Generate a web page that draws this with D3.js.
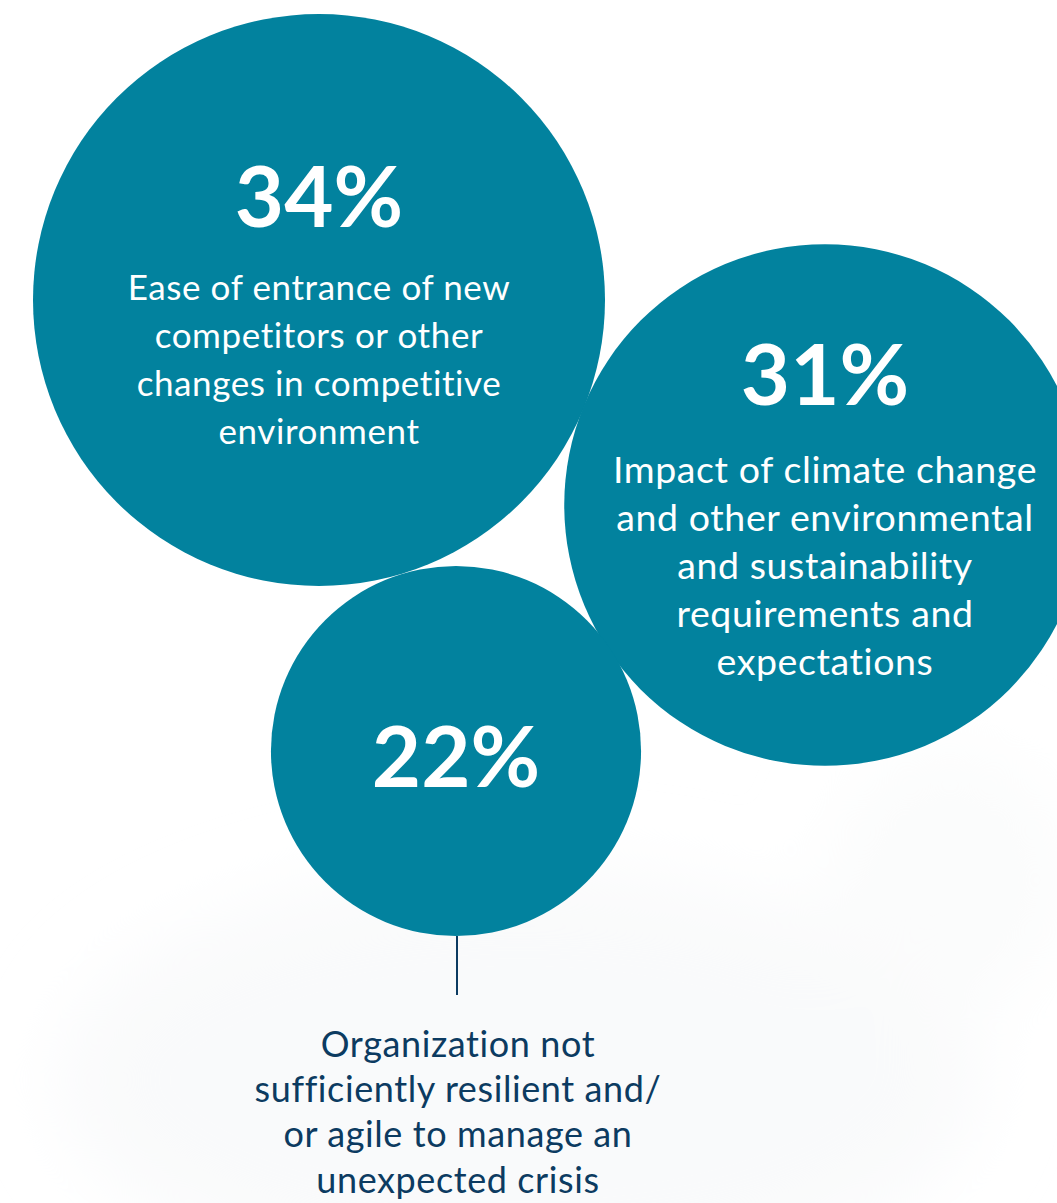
<!DOCTYPE html>
<html>
<head>
<meta charset="utf-8">
<script src="https://cdn.jsdelivr.net/npm/d3@7"></script>
<style>
  html, body { margin: 0; padding: 0; background: #ffffff; }
  svg { display: block; }
  text { font-variant-ligatures: none; font-feature-settings: "liga" 0, "clig" 0; }
</style>
</head>
<body>
<svg id="chart" width="1057" height="1203"></svg>
<script>
// ---- data ----
const categories = [
  "Ease of entrance of new competitors or other changes in competitive environment",
  "Impact of climate change and other environmental and sustainability requirements and expectations",
  "Organization not sufficiently resilient and/ or agile to manage an unexpected crisis"
];
const values = [34, 31, 22];
const labelLines = [
  ["Ease of entrance of new", "competitors or other", "changes in competitive", "environment"],
  ["Impact of climate change", "and other environmental", "and sustainability", "requirements and", "expectations"],
  ["Organization not", "sufficiently resilient and/", "or agile to manage an", "unexpected crisis"]
];

// ---- layout (not data) ----
const centers = [[319, 300], [825, 505], [456, 751]];
const insideLabel = [true, true, false];
const labelFont = [35, 37.5, 36];
const labelLead = [48, 47.9, 45.2];
const firstLine = [300, 483, 1057];
const pctOffset = [-73, -100, 36];

const teal = "#02829e";
const navy = "#0c3b61";
const FONT = "Lato, 'Open Sans', sans-serif";
const svg = d3.select("#chart");

// very faint background blob
const defs = svg.append("defs");
const blur = defs.append("filter").attr("id", "blur").attr("x", "-50%").attr("y", "-50%").attr("width", "200%").attr("height", "200%");
blur.append("feGaussianBlur").attr("stdDeviation", 40);
const bg = svg.append("g").attr("filter", "url(#blur)");
bg.append("ellipse").attr("cx", 520).attr("cy", 1080).attr("rx", 460).attr("ry", 210).attr("fill", "#f9fafb");
bg.append("ellipse").attr("cx", 950).attr("cy", 880).attr("rx", 120).attr("ry", 130).attr("fill", "#fbfcfc");

const r = d3.scaleLinear().domain([0, d3.max(values)]).range([0, 286]);

const data = values.map((v, i) => ({ v, label: categories[i], lines: labelLines[i], cx: centers[i][0], cy: centers[i][1], inside: insideLabel[i] }));

svg.append("g").selectAll("circle").data(data).join("circle")
  .attr("cx", d => d.cx).attr("cy", d => d.cy).attr("r", d => r(d.v))
  .attr("fill", teal);

// percentage labels
svg.append("g").selectAll("text").data(data).join("text")
  .attr("x", d => d.cx)
  .attr("y", (d, i) => d.cy + pctOffset[i])
  .attr("text-anchor", "middle")
  .attr("font-family", FONT)
  .attr("font-weight", 700)
  .attr("font-size", 85)
  .attr("fill", "#ffffff")
  .text(d => d.v + "%");

data.forEach((d, i) => {
  const color = d.inside ? "#ffffff" : navy;
  const xc = d.inside ? d.cx : d.cx + 2;
  if (!d.inside) {
    const bottom = d.cy + r(d.v);
    svg.append("line")
      .attr("x1", d.cx + 1).attr("x2", d.cx + 1)
      .attr("y1", bottom).attr("y2", bottom + 59)
      .attr("stroke", navy).attr("stroke-width", 2);
  }
  const t = svg.append("text")
    .attr("text-anchor", "middle")
    .attr("font-family", FONT)
    .attr("font-size", labelFont[i])
    .attr("letter-spacing", 0.6)
    .attr("fill", color);
  d.lines.forEach((ln, j) => {
    t.append("tspan").attr("x", xc).attr("y", firstLine[i] + j * labelLead[i]).text(ln);
  });
});
</script>
</body>
</html>
